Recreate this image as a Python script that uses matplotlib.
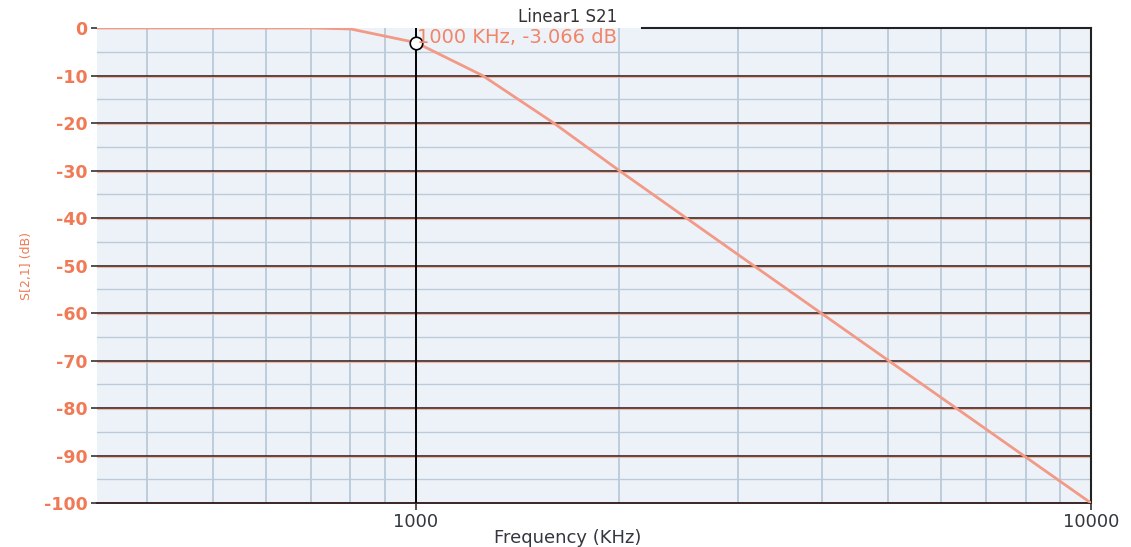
import numpy as np
from matplotlib import pyplot as plt
from matplotlib.ticker import FixedLocator, NullFormatter

plt.rcParams['font.family'] = ['DejaVu Sans']

# S21 (KHz, dB)
freq = [337, 500, 700, 800, 1000, 1255, 1600, 2000, 3000, 4000, 5000,
        7000, 10000]
s21 = [0.0, 0.0, 0.0, -0.2, -3.066, -10.0, -20.0, -30.0, -47.7, -60.2,
       -69.9, -84.5, -100.0]
marker_f = 1000
marker_db = -3.066
y_ticks = [0, -10, -20, -30, -40, -50, -60, -70, -80, -90, -100]
x_ticks = [1000, 10000]

orange = '#f07a55'
salmon = '#f29a86'
dark = '#333840'

fig = plt.figure(figsize=(11.31, 5.47), dpi=100)
ax = fig.add_axes([0.0858, 0.0804, 0.8788, 0.8684])
ax.set_facecolor('#edf2f9')
ax.set_xscale('log')
ax.set_xlim(337, 10000)
ax.set_ylim(-100, 0)

# grid
minor_x = [400, 500, 600, 700, 800, 900, 2000, 3000, 4000, 5000, 6000, 7000, 8000, 9000]
for f in minor_x:
    ax.axvline(f, color='#afc2d2', lw=1.1, zorder=1)
for v in range(-95, 0, 10):
    ax.axhline(v, color='#bccbd9', lw=1.0, zorder=1)
for v in y_ticks[1:-1]:
    ax.axhline(v, color='#3a2626', lw=1.2, zorder=2)
    ax.axhline(v - 0.28, color='#f4b4a0', lw=0.8, zorder=2)

ax.axvline(marker_f, color='black', lw=1.4, zorder=3)

ax.plot(freq, s21, color=salmon, lw=2.0, zorder=4)
ax.plot([marker_f], [marker_db], 'o', ms=9, mfc='white', mec='black', mew=1.2, zorder=5)
ax.text(1003, -0.1, '1000 KHz, -3.066 dB', color='#f28468', fontsize=14,
        ha='left', va='top', zorder=6)

# top border only right of the title box
ax.plot([2160, 10000], [0, 0], color='#222222', lw=1.5, zorder=3, clip_on=False)

for s in ['top', 'left']:
    ax.spines[s].set_visible(False)
ax.spines['right'].set_color('#222222')
ax.spines['right'].set_linewidth(1.5)
ax.spines['bottom'].set_color('#3a2626')
ax.spines['bottom'].set_linewidth(1.4)

ax.yaxis.set_major_locator(FixedLocator(y_ticks))
ax.set_yticklabels([str(v) for v in y_ticks])
ax.xaxis.set_major_locator(FixedLocator(x_ticks))
ax.xaxis.set_minor_locator(FixedLocator([]))
ax.xaxis.set_minor_formatter(NullFormatter())
ax.set_xticklabels([str(v) for v in x_ticks])
ax.tick_params(axis='y', length=4, width=1.2, color='#333333',
               labelsize=12.5, pad=3)
for lab in ax.get_yticklabels():
    lab.set_fontweight('bold')
    lab.set_color(orange)
ax.tick_params(axis='x', length=5, width=1.2, color='#333333', labelcolor=dark,
               labelsize=13, pad=2)

ax.set_xlabel('Frequency (KHz)', fontsize=13, color=dark)
ax.xaxis.set_label_coords(0.474, -0.055, transform=ax.transAxes)
ax.set_ylabel('S[2,1] (dB)', fontsize=9, color=orange)
ax.yaxis.set_label_coords(-0.064, 0.5, transform=ax.transAxes)
ax.set_title('Linear1 S21', fontsize=12, color='#333333', pad=4, x=0.473)

fig.savefig('out.png', dpi=100)
